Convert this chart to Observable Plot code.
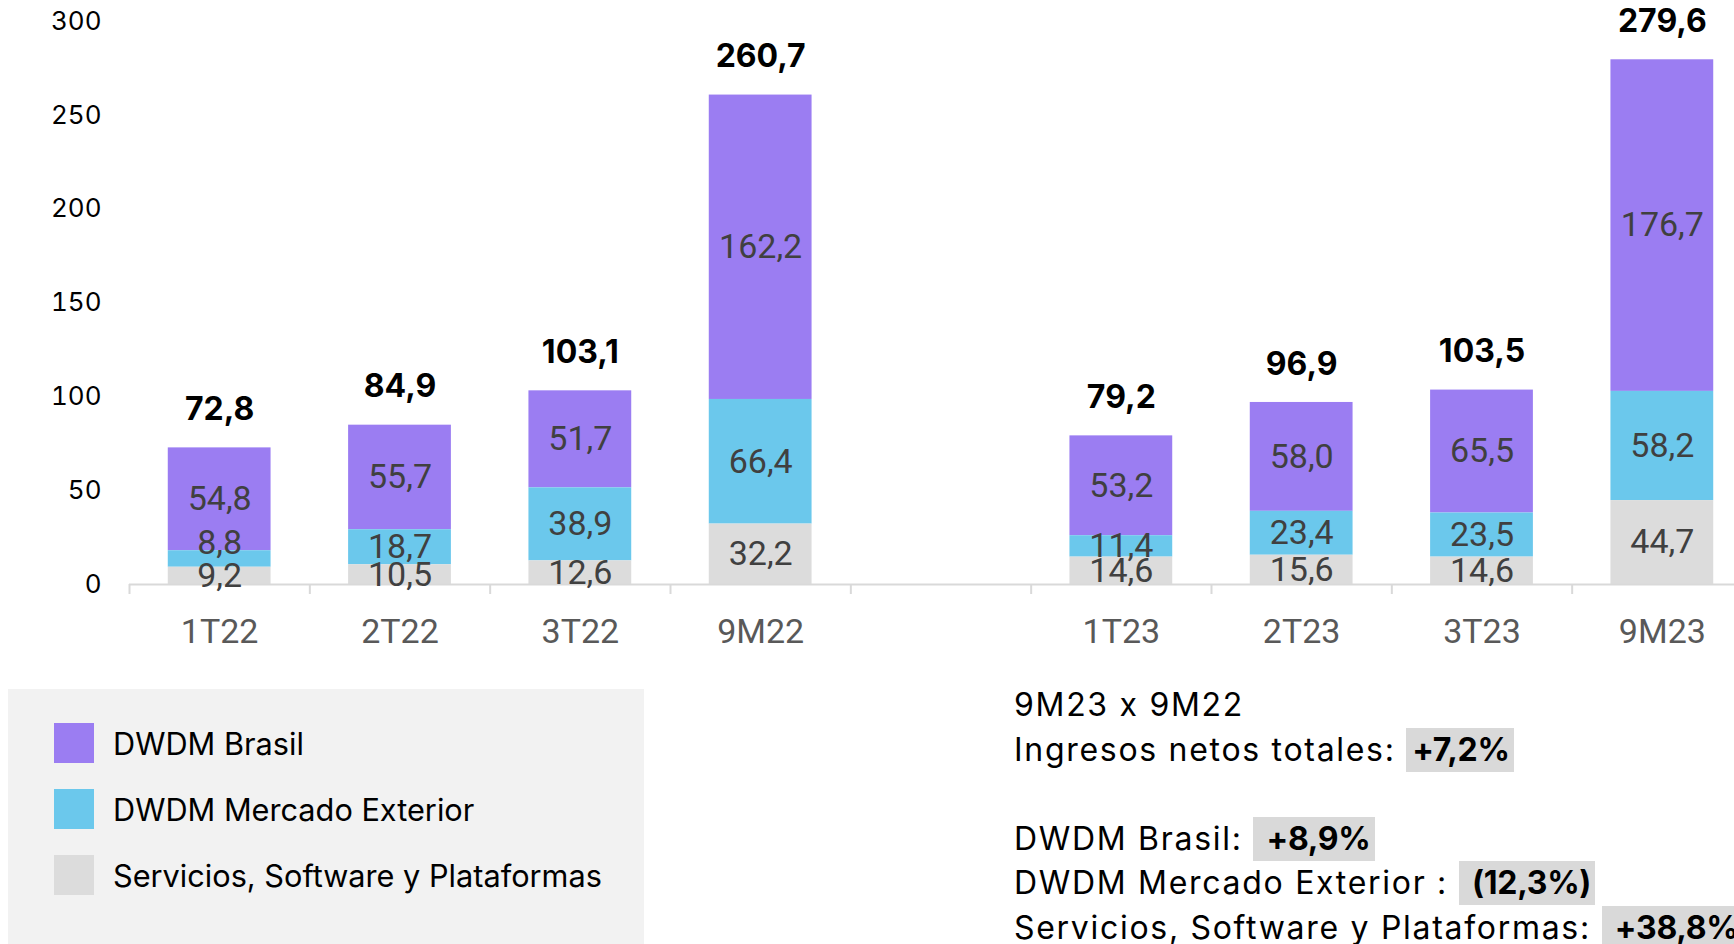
<!DOCTYPE html>
<html>
<head>
<meta charset="utf-8">
<script src="https://cdn.jsdelivr.net/npm/d3@7"></script>
<script src="https://cdn.jsdelivr.net/npm/@observablehq/plot@0.6"></script>
<style>
  html, body { margin: 0; padding: 0; background: #fff; overflow: hidden; width: 1734px; height: 944px; }
  #chart { position: absolute; left: 0; top: 0; }
  #legend { position: absolute; left: 8px; top: 689px; width: 636px; height: 300px; background: #f2f2f2; font-family: Inter, sans-serif; }
  .lg-row { position: absolute; left: 46px; height: 40px; display: flex; align-items: center; font-size: 30.7px; color: #000; }
  .lg-sw { width: 40px; height: 40px; margin-right: 19px; }
  #note { position: absolute; left: 1014px; top: 683px; font-family: Inter, sans-serif; font-size: 32px; line-height: 44.5px; color: #000; white-space: nowrap; letter-spacing: 1.7px; }
  #note span { white-space: pre; }
  #note .hl { background: #d9d9d9; font-weight: 700; letter-spacing: -0.3px; padding: 2px 4px 3px 6px; }
</style>
</head>
<body>
<div id="chart"></div>
<div id="legend"></div>
<div id="note"></div>
<script>
// ---- data ----
const categories = ["1T22", "2T22", "3T22", "9M22", " ", "1T23", "2T23", "3T23", "9M23"];
const periods = ["1T22", "2T22", "3T22", "9M22", "1T23", "2T23", "3T23", "9M23"];
const seriesNames = ["DWDM Brasil", "DWDM Mercado Exterior", "Servicios, Software y Plataformas"];
const seriesColors = ["#9b7df2", "#6bc8ec", "#dcdcdc"];
const brasil = [54.8, 55.7, 51.7, 162.2, 53.2, 58.0, 65.5, 176.7];
const exterior = [8.8, 18.7, 38.9, 66.4, 11.4, 23.4, 23.5, 58.2];
const servicios = [9.2, 10.5, 12.6, 32.2, 14.6, 15.6, 14.6, 44.7];
const totals = [72.8, 84.9, 103.1, 260.7, 79.2, 96.9, 103.5, 279.6];
const yTicks = [0, 50, 100, 150, 200, 250, 300];
const noteTitle = "9M23 x 9M22";
const noteLines = [
  ["Ingresos netos totales: ", "+7,2%"],
  null,
  ["DWDM Brasil: ", " +8,9%"],
  ["DWDM Mercado Exterior : ", " (12,3%)"],
  ["Servicios, Software y Plataformas: ", " +38,8%"]
];

// ---- table ----
const stackOrder = [seriesNames[2], seriesNames[1], seriesNames[0]];
const seriesValues = [brasil, exterior, servicios];
const rows = [];
periods.forEach((p, i) => {
  seriesNames.forEach((s, j) => rows.push({period: p, series: s, value: seriesValues[j][i]}));
});
const fmt = v => d3.format(".1f")(v).replace(".", ",");
// a small middle segment whose label sits above its centre
const isNudged = d => d.series === seriesNames[1] && d.value < 10;

const step = (1752 - 129) / categories.length;
const labelFont = "Roboto, sans-serif";
const labelOpts = {x: "period", y: "value", z: "series", order: stackOrder, text: d => fmt(d.value), fill: "#404040", fontSize: 34, fontFamily: labelFont};

const chart = Plot.plot({
  width: 1734,
  height: 680,
  marginLeft: 129,
  marginRight: 0,
  marginTop: 21,
  marginBottom: 96,
  style: {fontFamily: "Inter, sans-serif", background: "transparent", overflow: "visible"},
  x: {domain: categories, range: [129, 1752], paddingInner: 0.43, paddingOuter: 0.215, round: false, label: null},
  y: {domain: [0, 300], label: null},
  color: {domain: seriesNames, range: seriesColors},
  marks: [
    Plot.axisY({ticks: yTicks, tickSize: 0, tickPadding: 28, fontSize: 26, fill: "#000", label: null}),
    Plot.barY(rows, Plot.stackY({x: "period", y: "value", fill: "series", order: stackOrder})),
    Plot.ruleY([0], {stroke: "#d9d9d9", strokeWidth: 2}),
    Plot.axisX({tickSize: 10, dx: -step / 2, stroke: "#d9d9d9", strokeWidth: 2, tickFormat: () => "", label: null}),
    Plot.axisX({tickSize: 0, tickPadding: 34, fontSize: 34, fill: "#595959", fontFamily: labelFont, label: null}),
    Plot.text(rows, Plot.filter(d => !isNudged(d), Plot.stackY(labelOpts))),
    Plot.text(rows, Plot.filter(isNudged, Plot.stackY({...labelOpts, dy: -16}))),
    Plot.text(periods, {
      x: d => d, y: (d, i) => totals[i], text: (d, i) => fmt(totals[i]),
      lineAnchor: "bottom", dy: -28, fontSize: 32, fontWeight: 700, fill: "#000"
    })
  ]
});
document.getElementById("chart").appendChild(chart);

// ---- legend ----
const legend = document.getElementById("legend");
seriesNames.forEach((s, j) => {
  const row = document.createElement("div");
  row.className = "lg-row";
  row.style.top = (34 + j * 66) + "px";
  const sw = document.createElement("div");
  sw.className = "lg-sw";
  sw.style.background = seriesColors[j];
  const tx = document.createElement("span");
  tx.textContent = s;
  row.appendChild(sw);
  row.appendChild(tx);
  legend.appendChild(row);
});

// ---- note ----
const note = document.getElementById("note");
const t = document.createElement("div");
t.textContent = noteTitle;
note.appendChild(t);
noteLines.forEach(l => {
  const div = document.createElement("div");
  if (!l) { div.innerHTML = "&nbsp;"; }
  else {
    const a = document.createElement("span");
    a.textContent = l[0];
    const b = document.createElement("span");
    b.className = "hl";
    b.textContent = l[1];
    div.appendChild(a);
    div.appendChild(b);
  }
  note.appendChild(div);
});
</script>
</body>
</html>
